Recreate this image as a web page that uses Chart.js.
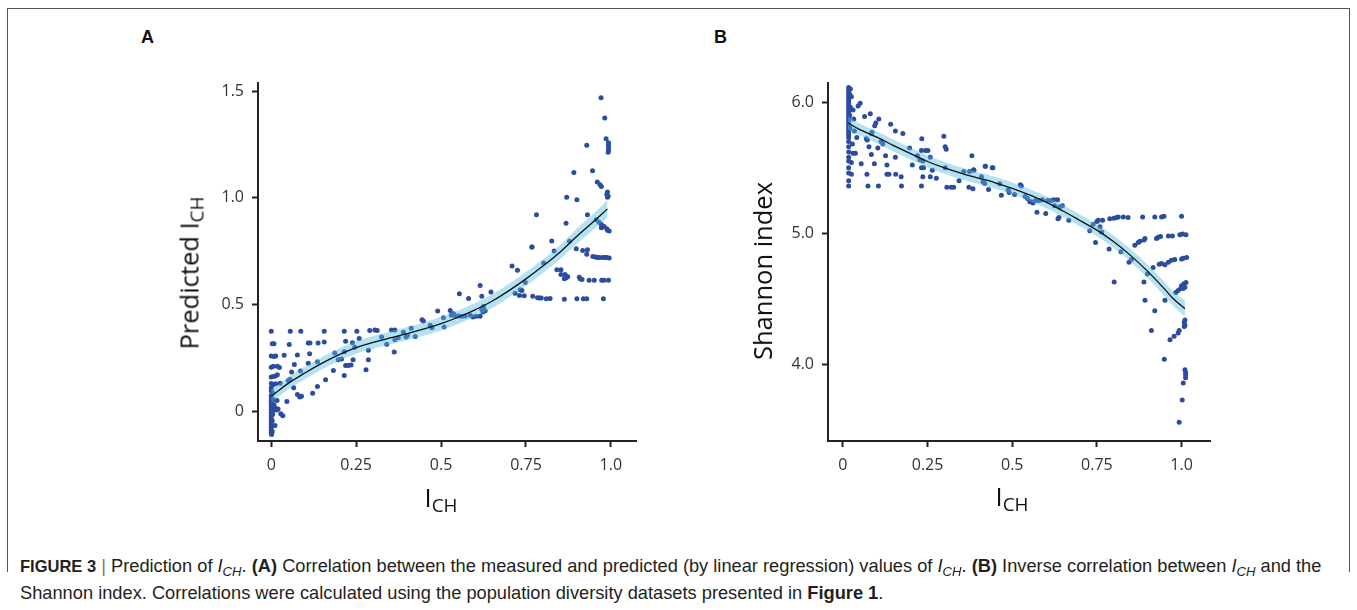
<!DOCTYPE html>
<html>
<head>
<meta charset="utf-8">
<script src="https://cdn.jsdelivr.net/npm/chart.js@4.4.0/dist/chart.umd.min.js"></script>
<style>
  html, body { margin:0; padding:0; background:#fff; }
  body { width:1357px; height:610px; position:relative; overflow:hidden; font-family:"Open Sans", sans-serif; }
  canvas { position:absolute; }
  .frame { position:absolute; background:#555; }
  .lbl { position:absolute; font-family:"Liberation Sans", Arial, sans-serif; font-weight:bold; font-size:18px; color:#111; line-height:18px; }
  .ytitle { position:absolute; font-size:25.5px; line-height:26px; color:#111; white-space:nowrap; transform:translate(-50%,-50%) rotate(-90deg); }
  .xtitle { position:absolute; font-size:25.5px; line-height:26px; color:#111; white-space:nowrap; transform:translateX(-50%); }
  .sb { font-size:0.74em; position:relative; top:0.27em; }
  .cap { position:absolute; left:20px; top:553px; font-family:"Liberation Sans", Arial, sans-serif; font-size:18.25px; line-height:25px; color:#231f20; white-space:nowrap; }
  .cap b.fig { font-size:16.5px; }
  .cap sub { font-size:0.72em; vertical-align:baseline; position:relative; top:0.3em; }
</style>
</head>
<body>
<div class="frame" style="left:7px; top:8px; width:1343px; height:1px;"></div>
<div class="frame" style="left:7px; top:8px; width:1px; height:564px;"></div>
<div class="frame" style="left:1349px; top:8px; width:1px; height:564px;"></div>

<div class="lbl" style="left:141px; top:28px;">A</div>
<div class="lbl" style="left:714px; top:28px;">B</div>

<canvas id="cA" width="560" height="470" style="left:100px; top:70px;"></canvas>
<canvas id="cB" width="560" height="470" style="left:670px; top:70px;"></canvas>

<div class="ytitle" style="left:190px; top:273px;">Predicted I<span class="sb">CH</span></div>
<div class="ytitle" style="left:762px; top:271px;">Shannon index</div>
<div class="xtitle" style="left:441px; top:484px;">I<span class="sb">CH</span></div>
<div class="xtitle" style="left:1012px; top:483px;">I<span class="sb">CH</span></div>

<div class="cap"><b class="fig">FIGURE 3</b> <span style="color:#777">|</span> Prediction of <i>I<sub>CH</sub></i>. <b>(A)</b> Correlation between the measured and predicted (by linear regression) values of <i>I<sub>CH</sub></i>. <b>(B)</b> Inverse correlation between <i>I<sub>CH</sub></i> and the<br>Shannon index. Correlations were calculated using the population diversity datasets presented in <b>Figure 1</b>.</div>

<script>
// ---------- Data ----------
const xTickValues = [0, 0.25, 0.5, 0.75, 1.0];
const xTickLabels = ["0", "0.25", "0.5", "0.75", "1.0"];
const yTickValuesA = [0, 0.5, 1.0, 1.5];
const yTickLabelsA = ["0", "0.5", "1.0", "1.5"];
const yTickValuesB = [4.0, 5.0, 6.0];
const yTickLabelsB = ["4.0", "5.0", "6.0"];

// Panel A: measured I_CH vs predicted I_CH
const pointsA = [
  [0,0.375],[0.003,0.316],[0.008,0.316],[0,0.258],[0.008,0.256],[0.013,0.258],[0,0.206],[0.006,0.21],
  [0,0.16],[0.006,0.162],[0.012,0.165],[0.018,0.17],[0,0.13],[0.006,0.125],[0.013,0.128],[0,0.11],
  [0,0.095],[0.004,0.085],[0,0.075],[0,0.062],[0.006,0.055],[0,0.048],[0,0.035],[0.008,0.03],
  [0,0.022],[0.012,0.015],[0,0.008],[0.006,0.003],[0.016,0.005],[0,-0.005],[0.004,-0.015],[0,-0.022],
  [0,-0.035],[0.003,-0.045],[0,-0.05],[0,-0.062],[0.011,-0.067],[0,-0.075],[0,-0.088],[0.003,-0.095],
  [0,-0.102],[0.001,-0.11],
  [0.018,0.21],[0.024,0.205],[0.026,0.131],[0.017,0.05],[0.02,0.01],[0.028,-0.012],[0.034,-0.022],
  [0.046,0.045],[0.038,0.262],[0.053,0.312],[0.056,0.375],[0.05,0.144],[0.055,0.15],[0.06,0.183],
  [0.066,0.11],[0.068,0.219],[0.077,0.263],[0.077,0.078],[0.084,0.066],[0.089,0.07],[0.086,0.188],
  [0.087,0.375],[0.109,0.224],[0.109,0.319],[0.114,0.319],[0.113,0.269],[0.122,0.084],[0.136,0.231],
  [0.136,0.116],[0.138,0.319],[0.156,0.375],[0.156,0.324],[0.16,0.147],[0.183,0.191],[0.187,0.272],
  [0.197,0.241],[0.207,0.244],[0.215,0.278],[0.215,0.167],[0.215,0.375],[0.219,0.327],[0.219,0.214],
  [0.227,0.214],[0.235,0.216],[0.239,0.32],[0.241,0.241],[0.246,0.3],[0.252,0.375],[0.259,0.34],
  [0.279,0.194],[0.286,0.241],[0.286,0.285],[0.29,0.378],[0.305,0.38],[0.312,0.378],[0.325,0.347],
  [0.34,0.313],[0.354,0.38],[0.362,0.277],[0.364,0.38],[0.364,0.335],[0.374,0.344],[0.389,0.37],
  [0.397,0.347],[0.401,0.355],[0.412,0.389],[0.424,0.35],[0.444,0.428],[0.448,0.422],[0.468,0.402],
  [0.473,0.391],[0.49,0.469],[0.507,0.438],[0.509,0.394],[0.527,0.472],[0.53,0.449],[0.537,0.457],
  [0.542,0.446],[0.551,0.446],[0.561,0.445],[0.571,0.446],[0.554,0.55],[0.581,0.528],[0.586,0.449],
  [0.594,0.441],[0.603,0.445],[0.615,0.445],[0.615,0.589],[0.62,0.538],[0.62,0.478],[0.625,0.49],
  [0.63,0.47],[0.623,0.465],[0.647,0.558],[0.709,0.68],[0.725,0.66],[0.733,0.569],[0.738,0.566],
  [0.718,0.553],[0.731,0.542],[0.745,0.541],[0.748,0.603],[0.768,0.769],[0.802,0.694],
  [0.971,1.469],[0.982,1.374],[0.986,1.277],[0.993,1.258],[0.993,1.246],[0.993,1.233],[0.993,1.221],
  [0.992,1.214],[0.929,1.246],[0.891,1.119],[0.946,1.127],[0.96,1.074],[0.968,1.061],[0.972,1.053],
  [0.99,1.027],[0.988,1.016],[0.992,1.007],[0.99,1.003],[0.87,1.002],[0.9,0.991],[0.781,0.921],
  [0.931,0.921],[0.868,0.881],[0.957,0.897],[0.965,0.885],[0.972,0.875],[0.972,0.86],[0.98,0.865],
  [0.988,0.855],[0.99,0.848],[0.995,0.844],[0.767,0.769],[0.826,0.797],[0.878,0.796],[0.833,0.75],
  [0.898,0.761],[0.917,0.753],[0.931,0.757],[0.929,0.735],[0.947,0.725],[0.955,0.722],[0.96,0.72],
  [0.965,0.72],[0.975,0.72],[0.982,0.72],[0.988,0.72],[0.995,0.718],[0.841,0.663],[0.853,0.663],
  [0.853,0.64],[0.865,0.64],[0.863,0.62],[0.868,0.625],[0.873,0.63],[0.907,0.627],[0.91,0.62],
  [0.915,0.617],[0.936,0.614],[0.951,0.614],[0.973,0.614],[0.98,0.614],[0.993,0.614],[0.77,0.539],
  [0.784,0.532],[0.79,0.53],[0.795,0.53],[0.81,0.527],[0.821,0.528],[0.863,0.524],[0.9,0.527],
  [0.919,0.527],[0.929,0.527],[0.978,0.527]
];
const fitXA     = [0, 0.05, 0.1, 0.15, 0.2, 0.25, 0.3, 0.35, 0.4, 0.45, 0.5, 0.55, 0.6, 0.65, 0.7, 0.75, 0.8, 0.85, 0.9, 0.95, 0.99];
const fitYA     = [0.07, 0.13, 0.18, 0.225, 0.265, 0.298, 0.322, 0.343, 0.363, 0.385, 0.41, 0.44, 0.475, 0.515, 0.565, 0.62, 0.68, 0.745, 0.82, 0.89, 0.948];
const bandUpA   = [0.1, 0.159, 0.209, 0.254, 0.294, 0.327, 0.352, 0.373, 0.394, 0.416, 0.442, 0.472, 0.507, 0.547, 0.597, 0.652, 0.712, 0.778, 0.855, 0.927, 0.988];
const bandLoA   = [0.04, 0.101, 0.151, 0.196, 0.236, 0.269, 0.292, 0.313, 0.332, 0.354, 0.378, 0.408, 0.443, 0.483, 0.533, 0.588, 0.648, 0.712, 0.785, 0.853, 0.908];

// Panel B: I_CH vs Shannon index
const stackYB = [6.11,6.09,6.07,6.05,6.03,6.01,5.99,5.97,5.95,5.93,5.91,5.89,5.87,5.85,5.83,5.81,5.79,5.77,5.75,5.73,5.7,5.66,5.62,5.58,5.55,5.5,5.46,5.4,5.36];
const pointsB = [
  [0.022,6.1],[0.02,6.06],[0.022,5.96],[0.02,5.9],[0.021,5.8],
  [0.025,6.04],[0.03,5.94],[0.032,5.87],[0.034,5.78],[0.028,5.68],[0.03,5.61],[0.025,5.54],[0.025,5.45],
  [0.041,5.73],[0.037,5.61],[0.045,5.97],[0.051,5.99],[0.054,5.53],[0.064,5.89],[0.081,5.91],[0.069,5.72],
  [0.072,5.71],[0.084,5.76],[0.086,5.77],[0.094,5.82],[0.097,5.84],[0.106,5.87],[0.077,5.66],[0.084,5.6],
  [0.093,5.53],[0.071,5.45],[0.074,5.36],[0.105,5.36],[0.113,5.7],[0.118,5.68],[0.103,5.65],[0.126,5.59],
  [0.13,5.52],[0.13,5.45],[0.136,5.45],[0.141,5.83],[0.155,5.78],[0.155,5.58],[0.156,5.45],[0.172,5.43],
  [0.173,5.36],[0.177,5.76],[0.197,5.65],[0.205,5.52],[0.22,5.59],[0.232,5.63],[0.244,5.63],[0.251,5.63],
  [0.233,5.72],[0.258,5.58],[0.227,5.56],[0.236,5.55],[0.232,5.5],[0.238,5.5],[0.264,5.48],[0.236,5.43],
  [0.258,5.43],[0.276,5.42],[0.232,5.36],[0.298,5.74],[0.302,5.66],[0.305,5.64],[0.302,5.5],[0.307,5.35],
  [0.32,5.35],[0.327,5.35],[0.343,5.4],[0.357,5.47],[0.374,5.47],[0.381,5.59],[0.387,5.48],[0.372,5.35],
  [0.384,5.34],[0.386,5.485],[0.42,5.51],[0.441,5.5],[0.409,5.43],[0.414,5.39],[0.419,5.38],[0.421,5.51],
  [0.43,5.333],[0.443,5.5],[0.463,5.378],[0.468,5.29],[0.488,5.33],[0.491,5.31],[0.507,5.295],[0.524,5.37],
  [0.527,5.36],[0.538,5.28],[0.545,5.265],[0.552,5.24],[0.556,5.24],[0.561,5.23],[0.569,5.25],[0.579,5.25],
  [0.589,5.255],[0.605,5.25],[0.615,5.25],[0.623,5.255],[0.634,5.255],[0.573,5.16],[0.599,5.15],[0.625,5.21],
  [0.64,5.2],[0.648,5.21],[0.635,5.11],[0.638,5.12],[0.667,5.1],[0.729,5.02],[0.739,5.07],[0.75,5.09],
  [0.759,5.05],[0.746,4.93],[0.754,5.1],[0.767,5.1],[0.764,5.01],[0.788,5.11],[0.8,5.115],[0.808,5.12],
  [0.813,5.125],[0.828,5.125],[0.842,5.12],[0.786,4.88],[0.801,4.63],[0.821,4.86],[0.845,4.78],[0.852,4.8],
  [0.885,5.125],[0.862,4.91],[0.872,4.93],[0.877,4.94],[0.889,4.95],[0.892,4.96],[0.889,4.63],[0.892,4.49],
  [0.899,4.69],[0.911,4.26],[0.921,4.41],[0.921,5.125],[0.941,5.125],[0.948,5.13],[0.916,4.74],[0.934,4.765],
  [0.941,4.77],[0.951,4.76],[0.926,4.96],[0.931,4.97],[0.938,4.975],[0.949,4.04],[0.951,4.49],[0.961,4.98],
  [0.973,4.98],[0.961,4.78],[0.97,4.795],[0.98,4.8],[0.966,4.19],[0.978,4.215],[0.99,4.24],[0.993,4.26],
  [0.983,4.55],[0.99,4.565],[0.997,4.58],[1.0,5.13],[0.993,3.56],[1.002,3.73],[1.005,3.86],[1.01,3.96],
  [1.012,3.94],[1.012,3.92],[1.012,3.9],[0.995,4.99],[1.003,4.995],[1.013,4.99],[1.0,4.805],[1.005,4.81],
  [1.015,4.815],[1.0,4.6],[1.007,4.615],[1.01,4.59],[1.013,4.625],[1.005,4.58],[1.008,4.32],[1.01,4.3],
  [1.008,4.29],[1.01,4.34]
];
const stackXB = 0.017;
const fitXB   = [0.015, 0.05, 0.1, 0.15, 0.2, 0.25, 0.3, 0.35, 0.4, 0.45, 0.5, 0.55, 0.6, 0.65, 0.7, 0.75, 0.8, 0.85, 0.9, 0.95, 0.975, 1.01];
const fitYB   = [5.84, 5.79, 5.733, 5.668, 5.607, 5.547, 5.498, 5.457, 5.421, 5.385, 5.342, 5.293, 5.237, 5.17, 5.098, 5.024, 4.935, 4.83, 4.71, 4.575, 4.503, 4.426];
const bandUpB = [5.89, 5.837, 5.778, 5.713, 5.652, 5.592, 5.543, 5.502, 5.466, 5.43, 5.387, 5.338, 5.282, 5.215, 5.143, 5.07, 4.982, 4.878, 4.76, 4.628, 4.558, 4.486];
const bandLoB = [5.79, 5.743, 5.688, 5.623, 5.562, 5.502, 5.453, 5.412, 5.376, 5.34, 5.297, 5.248, 5.192, 5.125, 5.053, 4.978, 4.888, 4.782, 4.66, 4.522, 4.448, 4.366];

// ---------- Charts ----------
const AXIS = '#222';
const DOT = '#2b4c9f';
const BAND = 'rgba(83,187,227,0.43)';
const tickFont = { family: 'Open Sans', size: 16 };

function xy(xs, ys) { return xs.map((x, i) => ({ x: x, y: ys[i] })); }

function makePanel(id, pts, fx, fy, up, lo, xr, yr, yVals, yLabels, padRight) {
  return new Chart(document.getElementById(id), {
    data: {
      datasets: [
        { type: 'line', data: xy(fx, fy), borderColor: '#111', borderWidth: 1.3, pointRadius: 0, tension: 0.4, fill: false, order: 0 },
        { type: 'line', data: xy(fx, up), borderColor: 'rgba(0,0,0,0)', borderWidth: 0, pointRadius: 0, tension: 0.4, fill: false, order: 1 },
        { type: 'line', data: xy(fx, lo), borderColor: 'rgba(0,0,0,0)', borderWidth: 0, pointRadius: 0, tension: 0.4, fill: '-1', backgroundColor: BAND, order: 1 },
        { type: 'scatter', data: pts.map(p => ({ x: p[0], y: p[1] })), pointRadius: 2.5, pointBorderWidth: 0, backgroundColor: DOT, borderColor: DOT, order: 2 }
      ]
    },
    options: {
      responsive: false, animation: false, devicePixelRatio: 1,
      layout: { padding: { top: 13, right: padRight, left: 0, bottom: 0 } },
      plugins: { legend: { display: false }, tooltip: { enabled: false } },
      scales: {
        x: {
          type: 'linear', min: xr[0], max: xr[1],
          afterFit: s => { s.height = 99; s.paddingLeft = 0; s.paddingRight = 0; },
          afterBuildTicks: s => { s.ticks = xTickValues.map(v => ({ value: v })); },
          ticks: { autoSkip: false, maxRotation: 0, padding: 9, color: '#333', font: tickFont, callback: (v, i) => xTickLabels[i] },
          grid: { drawOnChartArea: false, drawTicks: true, tickLength: 6, tickWidth: 2, tickColor: AXIS },
          border: { display: true, width: 2, color: AXIS }
        },
        y: {
          type: 'linear', min: yr[0], max: yr[1],
          afterFit: s => { s.width = 158; s.paddingTop = 0; s.paddingBottom = 0; },
          afterBuildTicks: s => { s.ticks = yVals.map(v => ({ value: v })); },
          ticks: { autoSkip: false, padding: 8, color: '#333', font: tickFont, callback: (v, i) => yLabels[i] },
          grid: { drawOnChartArea: false, drawTicks: true, tickLength: 6, tickWidth: 2, tickColor: AXIS },
          border: { display: true, width: 2, color: AXIS }
        }
      }
    }
  });
}

const allB = stackYB.map(y => [stackXB, y]).concat(pointsB);

function draw() {
  makePanel('cA', pointsA, fitXA, fitYA, bandUpA, bandLoA, [-0.039, 1.074], [-0.14, 1.538], yTickValuesA, yTickLabelsA, 24);
  makePanel('cB', allB, fitXB, fitYB, bandUpB, bandLoB, [-0.044, 1.084], [3.418, 6.145], yTickValuesB, yTickLabelsB, 20);
}
if (document.fonts && document.fonts.load) {
  document.fonts.load('16px "Open Sans"').then(draw, draw);
} else { draw(); }
</script>
</body>
</html>
